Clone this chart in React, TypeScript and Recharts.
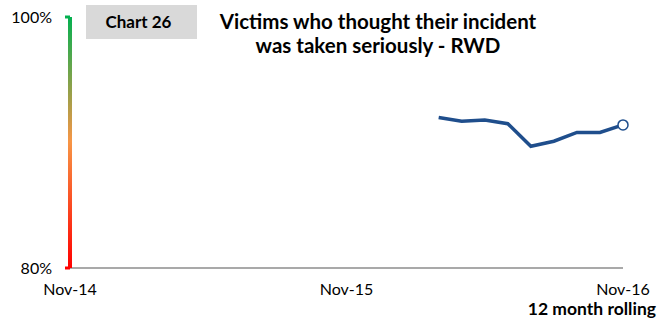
import React from 'react';
import { LineChart, Line, XAxis, YAxis } from 'recharts';

const months = [16, 17, 18, 19, 20, 21, 22, 23, 24];
const values = [92.0, 91.7, 91.8, 91.5, 89.7, 90.1, 90.8, 90.8, 91.4];
const xTicks = [0, 12, 24];
const xTickLabels = ['Nov-14', 'Nov-15', 'Nov-16'];
const yTicks = [80, 100];

const data = months.map((m, i) => ({ m, v: values[i] }));

const FONT = 'Lato, "Open Sans", sans-serif';

const LastDot = (props: any) => {
  const { cx, cy, index } = props;
  if (index !== data.length - 1) return <g key={`d${index}`} />;
  return <circle key={`d${index}`} cx={cx} cy={cy} r={5} fill="#fff" stroke="#1F4E8C" strokeWidth={1.5} />;
};

export default function App() {
  return (
    <div style={{ position: 'absolute', left: 0, top: 0, width: 662, height: 324, background: '#fff', fontFamily: FONT }}>
      <svg width={0} height={0} style={{ position: 'absolute' }}>
        <defs>
          <linearGradient id="yGrad" gradientUnits="userSpaceOnUse" x1={0} y1={15} x2={0} y2={268}>
            <stop offset="0%" stopColor="#00B050" />
            <stop offset="50%" stopColor="#F79646" />
            <stop offset="100%" stopColor="#FF0000" />
          </linearGradient>
        </defs>
      </svg>
      <LineChart width={662} height={324} data={data} margin={{ top: 17, right: 39, bottom: 0, left: 0 }}>
        <XAxis
          dataKey="m"
          type="number"
          domain={[0, 24]}
          ticks={xTicks}
          tickFormatter={(v: number) => xTickLabels[xTicks.indexOf(v)]}
          axisLine={{ stroke: '#8c8c8c', strokeWidth: 1.5 }}
          tickLine={false}
          tickSize={0}
          tickMargin={16}
          height={56}
          interval={0}
          tick={{ fill: '#000', fontSize: 16, fontFamily: FONT }}
        />
        <YAxis
          type="number"
          domain={[80, 100]}
          ticks={yTicks}
          tickFormatter={(v: number) => `${v}%`}
          width={70}
          axisLine={{ stroke: 'url(#yGrad)', strokeWidth: 4 }}
          tickLine={{ stroke: 'url(#yGrad)', strokeWidth: 3 }}
          tickSize={5}
          tickMargin={13}
          interval={0}
          tick={{ fill: '#000', fontSize: 16, fontFamily: FONT }}
        />
        <Line
          dataKey="v"
          stroke="#1F4E8C"
          strokeWidth={3.5}
          dot={LastDot}
          activeDot={false}
          isAnimationActive={false}
        />
      </LineChart>
      <div style={{ position: 'absolute', left: 86, top: 5, width: 111, height: 34, background: '#D9D9D9' }} />
      <div style={{ position: 'absolute', left: 86, top: 5, width: 105, height: 34, lineHeight: '34px', textAlign: 'center', fontWeight: 700, fontSize: 17, color: '#000' }}>
        Chart 26
      </div>
      <div style={{ position: 'absolute', left: 178, top: 9, width: 400, textAlign: 'center', fontWeight: 700, fontSize: 20.5, lineHeight: '24px', color: '#000' }}>
        Victims who thought their incident
        <br />
        was taken seriously - RWD
      </div>
      <div style={{ position: 'absolute', right: 6, top: 301, fontWeight: 700, fontSize: 17.5, lineHeight: '16px', color: '#000' }}>
        12 month rolling
      </div>
    </div>
  );
}
